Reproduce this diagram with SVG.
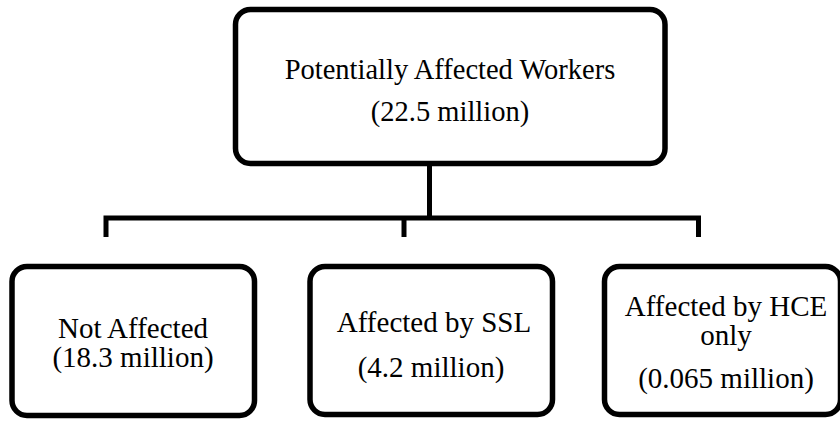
<svg xmlns="http://www.w3.org/2000/svg" width="840" height="422" viewBox="0 0 840 422">
<style>
.box{fill:#fff;stroke:#000;stroke-width:5.5}
.ln{fill:none;stroke:#000;stroke-width:5;stroke-linejoin:miter;stroke-linecap:butt}
.t{font-family:'Liberation Serif','Times New Roman',serif;font-size:29px;fill:#000;text-anchor:middle}
.tt{font-family:'Liberation Serif','Times New Roman',serif;font-size:28.5px;fill:#000;text-anchor:middle}
</style>
<rect width="840" height="422" fill="#fff"/>
<g id="connectors">
<path class="ln" d="M429.5,163.5 V218"/>
<path class="ln" d="M106,237 V218 H698.5 V237"/>
<path class="ln" d="M404,218 V237"/>
</g>
<g id="node-top">
<rect class="box" x="235.5" y="9.5" width="429.5" height="154" rx="15"/>
<text class="tt" x="450" y="79">Potentially Affected Workers</text>
<text class="tt" x="450" y="121">(22.5 million)</text>
</g>
<g id="node-not-affected">
<rect class="box" x="12" y="266.5" width="242.5" height="149" rx="15"/>
<text class="t" x="133" y="338">Not Affected</text>
<text class="t" x="133" y="367">(18.3 million)</text>
</g>
<g id="node-ssl">
<rect class="box" x="310" y="266.5" width="242.5" height="148" rx="15"/>
<text class="t" x="434" y="332">Affected by SSL</text>
<text class="t" x="431" y="377">(4.2 million)</text>
</g>
<g id="node-hce">
<rect class="box" x="604.5" y="266.5" width="236" height="148" rx="15"/>
<text class="t" x="726" y="316">Affected by HCE</text>
<text class="t" x="726" y="345">only</text>
<text class="t" x="726" y="388">(0.065 million)</text>
</g>
</svg>
